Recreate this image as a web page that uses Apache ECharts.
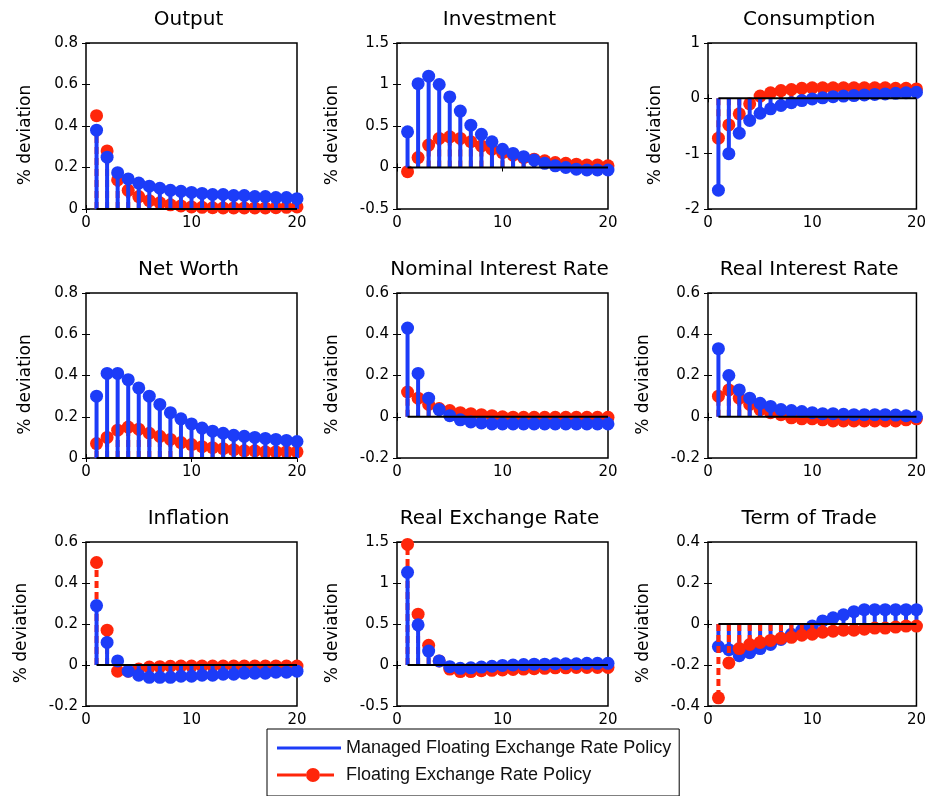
<!DOCTYPE html>
<html>
<head>
<meta charset="utf-8">
<title>Impulse responses</title>
<script src="https://cdn.jsdelivr.net/npm/echarts@6/dist/echarts.min.js"></script>
<style>
  html, body { margin: 0; padding: 0; background: #fff; }
  #chart { width: 929px; height: 796px; }
</style>
</head>
<body>
<div id="chart"></div>
<script>
// periods after the shock
var periods = [1, 2, 3, 4, 5, 6, 7, 8, 9, 10, 11, 12, 13, 14, 15, 16, 17, 18, 19, 20];

var titles = ['Output', 'Investment', 'Consumption', 'Net Worth', 'Nominal Interest Rate',
  'Real Interest Rate', 'Inflation', 'Real Exchange Rate', 'Term of Trade'];

// y axis ticks: min, max, step
var yMin = [0, -0.5, -2, 0, -0.2, -0.2, -0.2, -0.5, -0.4];
var yMax = [0.8, 1.5, 1, 0.8, 0.6, 0.6, 0.6, 1.5, 0.4];
var yStep = [0.2, 0.5, 1, 0.2, 0.2, 0.2, 0.2, 0.5, 0.2];

// managed floating exchange rate policy (blue)
var managedOutput = [0.38, 0.25, 0.175, 0.145, 0.125, 0.11, 0.1, 0.09, 0.085, 0.08, 0.075, 0.07, 0.07, 0.065, 0.065, 0.06, 0.06, 0.055, 0.055, 0.05];
var managedInvestment = [0.43, 1.01, 1.1, 1.0, 0.85, 0.68, 0.51, 0.4, 0.31, 0.22, 0.17, 0.13, 0.09, 0.05, 0.02, 0.0, -0.02, -0.03, -0.03, -0.03];
var managedConsumption = [-1.66, -1.0, -0.63, -0.4, -0.27, -0.19, -0.13, -0.08, -0.04, -0.01, 0.01, 0.03, 0.04, 0.05, 0.06, 0.07, 0.08, 0.09, 0.1, 0.11];
var managedNetWorth = [0.3, 0.41, 0.41, 0.38, 0.34, 0.3, 0.26, 0.22, 0.19, 0.165, 0.145, 0.13, 0.12, 0.11, 0.105, 0.1, 0.095, 0.09, 0.085, 0.08];
var managedNominalRate = [0.43, 0.21, 0.09, 0.035, 0.005, -0.015, -0.025, -0.03, -0.035, -0.035, -0.035, -0.035, -0.035, -0.035, -0.035, -0.035, -0.035, -0.035, -0.035, -0.035];
var managedRealRate = [0.33, 0.2, 0.13, 0.09, 0.065, 0.05, 0.035, 0.03, 0.025, 0.02, 0.015, 0.015, 0.012, 0.01, 0.01, 0.01, 0.01, 0.008, 0.005, 0.0];
var managedInflation = [0.29, 0.11, 0.02, -0.03, -0.05, -0.06, -0.06, -0.06, -0.055, -0.055, -0.05, -0.05, -0.045, -0.045, -0.04, -0.04, -0.04, -0.035, -0.035, -0.03];
var managedExchangeRate = [1.13, 0.49, 0.17, 0.05, -0.02, -0.04, -0.035, -0.025, -0.015, -0.005, 0.0, 0.005, 0.01, 0.01, 0.015, 0.015, 0.015, 0.02, 0.02, 0.02];
var managedTermsOfTrade = [-0.11, -0.125, -0.155, -0.14, -0.12, -0.1, -0.075, -0.05, -0.03, -0.01, 0.015, 0.03, 0.045, 0.06, 0.07, 0.07, 0.07, 0.07, 0.07, 0.07];

// floating exchange rate policy (red)
var floatOutput = [0.45, 0.28, 0.14, 0.09, 0.06, 0.04, 0.03, 0.02, 0.015, 0.01, 0.008, 0.006, 0.005, 0.005, 0.005, 0.005, 0.005, 0.006, 0.008, 0.01];
var floatInvestment = [-0.05, 0.12, 0.27, 0.35, 0.37, 0.35, 0.31, 0.26, 0.22, 0.18, 0.15, 0.12, 0.1, 0.08, 0.06, 0.05, 0.04, 0.03, 0.03, 0.02];
var floatConsumption = [-0.72, -0.48, -0.28, -0.1, 0.04, 0.1, 0.14, 0.16, 0.18, 0.19, 0.19, 0.19, 0.19, 0.19, 0.19, 0.19, 0.19, 0.18, 0.18, 0.17];
var floatNetWorth = [0.07, 0.1, 0.135, 0.15, 0.14, 0.12, 0.105, 0.09, 0.075, 0.065, 0.055, 0.05, 0.045, 0.04, 0.035, 0.035, 0.03, 0.03, 0.03, 0.03];
var floatNominalRate = [0.12, 0.09, 0.06, 0.04, 0.03, 0.02, 0.015, 0.01, 0.005, 0.0, -0.002, -0.003, -0.003, -0.003, -0.003, -0.003, -0.003, -0.003, -0.003, -0.003];
var floatRealRate = [0.1, 0.13, 0.09, 0.06, 0.035, 0.02, 0.01, -0.005, -0.01, -0.01, -0.015, -0.02, -0.02, -0.02, -0.02, -0.02, -0.02, -0.02, -0.015, -0.01];
var floatInflation = [0.5, 0.17, -0.03, -0.03, -0.02, -0.01, -0.008, -0.006, -0.005, -0.005, -0.005, -0.005, -0.005, -0.005, -0.005, -0.005, -0.005, -0.005, -0.005, -0.005];
var floatExchangeRate = [1.47, 0.62, 0.24, 0.05, -0.05, -0.08, -0.08, -0.07, -0.065, -0.06, -0.055, -0.05, -0.045, -0.04, -0.035, -0.035, -0.03, -0.03, -0.03, -0.03];
var floatTermsOfTrade = [-0.36, -0.19, -0.12, -0.1, -0.09, -0.08, -0.07, -0.065, -0.055, -0.05, -0.04, -0.035, -0.03, -0.03, -0.025, -0.02, -0.02, -0.015, -0.01, -0.01];

var managedSeries = [managedOutput, managedInvestment, managedConsumption, managedNetWorth, managedNominalRate,
  managedRealRate, managedInflation, managedExchangeRate, managedTermsOfTrade];
var floatSeries = [floatOutput, floatInvestment, floatConsumption, floatNetWorth, floatNominalRate,
  floatRealRate, floatInflation, floatExchangeRate, floatTermsOfTrade];

var managedName = 'Managed Floating Exchange Rate Policy';
var floatName = 'Floating Exchange Rate Policy';

var BLUE = '#1c3cf8';
var RED = '#ff260a';

// layout of the 3x3 panels
var colLeft = [86, 397, 708];
var rowTop = [43, 293, 542];
var rowHeight = [166, 165, 164];
var panelWidth = 211;
var labelGap = [52, 56, 44, 52, 56, 56, 56, 56, 56];

// stem: line from the zero baseline to the value, and a filled dot
function stem(color, dash) {
  return function (params, api) {
    var top = api.coord([api.value(0), api.value(1)]);
    var base = api.coord([api.value(0), 0]);
    return {
      type: 'group',
      children: [{
        type: 'line',
        shape: { x1: base[0], y1: base[1], x2: top[0], y2: top[1] },
        style: { stroke: color, lineWidth: 4, lineDash: dash }
      }, {
        type: 'circle',
        shape: { cx: top[0], cy: top[1], r: 6.5 },
        style: { fill: color }
      }]
    };
  };
}

function pairs(values) {
  return periods.map(function (p, i) { return [p, values[i]]; });
}

var grids = [], xAxes = [], yAxes = [], series = [];

titles.forEach(function (title, i) {
  var row = Math.floor(i / 3), col = i % 3;
  grids.push({
    left: colLeft[col], top: rowTop[row], width: panelWidth, height: rowHeight[row],
    show: true, borderColor: '#000', borderWidth: 1.5, backgroundColor: '#fff'
  });

  var tick = { inside: true, length: 4, lineStyle: { color: '#000', width: 1 } };
  xAxes.push({
    gridIndex: i, type: 'value', position: 'bottom', min: 0, max: 20, interval: 10,
    axisLine: { show: false }, axisTick: tick, splitLine: { show: false },
    axisLabel: { color: '#000', fontSize: 15, margin: 7 }
  });
  xAxes.push({
    gridIndex: i, type: 'value', position: 'top', min: 0, max: 20, interval: 10,
    axisLine: { show: false }, axisTick: tick, splitLine: { show: false },
    axisLabel: { show: false },
    name: title, nameLocation: 'middle', nameGap: 13,
    nameTextStyle: { color: '#000', fontSize: 20, padding: [0, 6, 0, 0] }
  });
  yAxes.push({
    gridIndex: i, type: 'value', position: 'left', min: yMin[i], max: yMax[i], interval: yStep[i],
    axisLine: { show: false }, axisTick: tick, splitLine: { show: false },
    axisLabel: { color: '#000', fontSize: 15, margin: 8 },
    name: '% deviation', nameLocation: 'middle', nameGap: labelGap[i],
    nameTextStyle: { color: '#000', fontSize: 17, padding: [0, 18, 0, 0] }
  });
  yAxes.push({
    gridIndex: i, type: 'value', position: 'right', min: yMin[i], max: yMax[i], interval: yStep[i],
    axisLine: { show: false }, axisTick: tick, splitLine: { show: false },
    axisLabel: { show: false }
  });

  // in the terms of trade panel the red stems lie over the blue ones
  var redOnTop = i === 8;
  series.push({
    name: floatName, type: 'custom', xAxisIndex: 2 * i, yAxisIndex: 2 * i,
    renderItem: stem(RED, [7, 4]), data: pairs(floatSeries[i]),
    itemStyle: { color: RED }, z: redOnTop ? 4 : 2, clip: false, silent: true
  });
  series.push({
    name: managedName, type: 'custom', xAxisIndex: 2 * i, yAxisIndex: 2 * i,
    renderItem: stem(BLUE, null), data: pairs(managedSeries[i]),
    itemStyle: { color: BLUE }, z: 3, clip: false, silent: true
  });
  // zero baseline of the stems
  series.push({
    name: 'baseline', type: 'line', xAxisIndex: 2 * i, yAxisIndex: 2 * i,
    data: [[periods[0], 0], [periods[periods.length - 1], 0]],
    symbol: 'none', lineStyle: { color: '#000', width: 2 }, z: 5, silent: true
  });
});

var option = {
  animation: false,
  backgroundColor: '#fff',
  textStyle: { fontFamily: 'DejaVu Sans' },
  grid: grids,
  xAxis: xAxes,
  yAxis: yAxes,
  legend: {
    orient: 'vertical', left: 267, top: 729,
    padding: [10, 8, 12, 10], itemGap: 9,
    itemWidth: 64, itemHeight: 14,
    borderColor: '#000', borderWidth: 1, backgroundColor: '#fff',
    selectedMode: false,
    textStyle: { fontFamily: 'Liberation Sans', fontSize: 18, color: '#111' },
    data: [
      { name: managedName, icon: 'path://M0,0M64,14M0,5.5L64,5.5L64,8.5L0,8.5Z' },
      { name: floatName, icon: 'path://M0,0M64,14M0,5.5L29,5.5L29,8.5L0,8.5ZM43,5.5L57,5.5L57,8.5L43,8.5ZM29,7A7,7 0 1 1 43,7A7,7 0 1 1 29,7Z' }
    ]
  },
  series: series
};

var chart = echarts.init(document.getElementById('chart'));
chart.setOption(option);
</script>
</body>
</html>
